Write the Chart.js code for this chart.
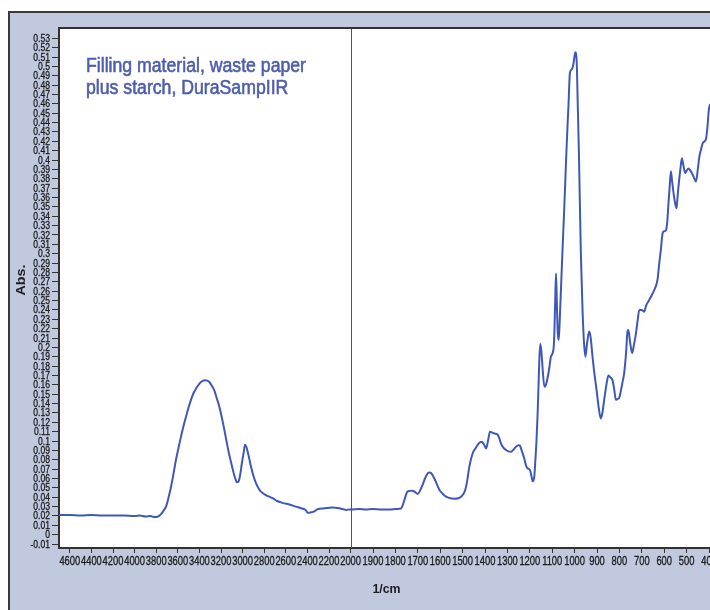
<!DOCTYPE html>
<html>
<head>
<meta charset="utf-8">
<script src="https://cdn.jsdelivr.net/npm/chart.js@4.4.1/dist/chart.umd.min.js"></script>
<style>
  html, body { margin: 0; padding: 0; background: #fff; overflow: hidden; width: 710px; height: 610px; }
  canvas { display: block; }
</style>
</head>
<body>
<canvas id="spectrum" width="740" height="610"></canvas>
<script>
// IR spectrum: wavenumber (1/cm) and absorbance
const wavenumbers = [
  4700, 4600, 4500, 4400, 4300, 4200, 4100, 4000, 3950, 3900, 3850, 3833, 3800, 3780, 3755, 3730,
  3709, 3685, 3663, 3640, 3617, 3593, 3570, 3547, 3524, 3500, 3478, 3455, 3431, 3408, 3385, 3365,
  3348, 3328, 3308, 3285, 3262, 3240, 3216, 3192, 3169, 3146, 3123, 3100, 3083, 3065, 3052, 3040,
  3031, 3018, 3006, 2990, 2978, 2966, 2954, 2938, 2923, 2900, 2876, 2850, 2830, 2780, 2722, 2680,
  2630, 2560, 2506, 2450, 2413, 2398, 2382, 2360, 2336, 2300, 2250, 2200, 2167, 2120, 2074, 2040,
  2012, 2000, 1961, 1930, 1902, 1860, 1827, 1795, 1775, 1768, 1760, 1752, 1746, 1735, 1723, 1712,
  1701, 1690, 1679, 1668, 1656, 1648, 1641, 1626, 1615, 1604, 1590, 1574, 1555, 1537, 1520, 1507,
  1495, 1488, 1480, 1470, 1455, 1443, 1433, 1420, 1413, 1404, 1395, 1386, 1378, 1368, 1358, 1344,
  1336, 1329, 1318, 1306, 1295, 1284, 1272, 1262, 1250, 1244, 1235, 1225, 1217, 1210, 1199, 1193,
  1187, 1180, 1175, 1170, 1165, 1161, 1157, 1153, 1148, 1143, 1135, 1128, 1121, 1113, 1106, 1098,
  1092, 1087, 1083, 1079, 1075, 1071, 1067, 1058, 1046, 1038, 1031, 1027, 1021, 1012, 1005, 997,
  991, 986, 981, 977, 972, 967, 964, 958, 952, 944, 935, 928, 920, 913, 902, 892,
  883, 876, 868, 858, 849, 840, 831, 823, 816, 808, 801, 794, 786, 779, 770, 764,
  760, 752, 743, 735, 726, 718, 711, 700, 690, 680, 667, 655, 645, 630, 622, 615,
  607, 600, 592, 586, 582, 576, 570, 565, 560, 552, 545, 539, 533, 527, 521, 514,
  506, 499, 491, 484, 476, 467, 458, 450, 443, 435, 428, 420, 413, 406, 401, 395
];
const absorbance = [
  0.021, 0.021, 0.0205, 0.021, 0.0205, 0.0205, 0.0205, 0.020, 0.0205, 0.0195, 0.020, 0.0192, 0.019, 0.0195, 0.022, 0.026,
  0.030, 0.040, 0.051, 0.065, 0.080, 0.093, 0.105, 0.116, 0.126, 0.136, 0.144, 0.151, 0.156, 0.160, 0.163, 0.1645,
  0.165, 0.1645, 0.163, 0.159, 0.154, 0.146, 0.137, 0.125, 0.112, 0.098, 0.085, 0.074, 0.066, 0.059, 0.056, 0.0565,
  0.059, 0.067, 0.077, 0.088, 0.096, 0.094, 0.089, 0.081, 0.073, 0.063, 0.055, 0.049, 0.046, 0.042, 0.039, 0.036,
  0.034, 0.032, 0.030, 0.028, 0.026, 0.0235, 0.0235, 0.024, 0.025, 0.0275, 0.028, 0.0288, 0.029, 0.0285, 0.0274, 0.0265,
  0.027, 0.027, 0.0274, 0.027, 0.0275, 0.027, 0.027, 0.0275, 0.028, 0.031, 0.037, 0.043, 0.046, 0.0468, 0.047, 0.0455,
  0.0435, 0.047, 0.053, 0.060, 0.0655, 0.0665, 0.066, 0.060, 0.054, 0.048, 0.044, 0.0406, 0.039, 0.0385, 0.039, 0.0406,
  0.044, 0.048, 0.057, 0.0726, 0.087, 0.092, 0.0958, 0.099, 0.099, 0.096, 0.092, 0.101, 0.110, 0.109, 0.108, 0.107,
  0.103, 0.0976, 0.093, 0.0904, 0.089, 0.0886, 0.091, 0.094, 0.0955, 0.095, 0.089, 0.0816, 0.074, 0.071, 0.069, 0.063,
  0.057, 0.062, 0.080, 0.101, 0.130, 0.160, 0.190, 0.204, 0.195, 0.178, 0.158, 0.160, 0.167, 0.178, 0.190, 0.194,
  0.205, 0.245, 0.279, 0.245, 0.215, 0.208, 0.225, 0.28, 0.35, 0.40, 0.44, 0.46, 0.493, 0.497, 0.503, 0.515,
  0.507, 0.46, 0.41, 0.36, 0.30, 0.26, 0.236, 0.205, 0.19, 0.205, 0.217, 0.21, 0.19, 0.175, 0.1545, 0.135,
  0.124, 0.13, 0.144, 0.16, 0.17, 0.168, 0.165, 0.155, 0.144, 0.145, 0.146, 0.153, 0.163, 0.172, 0.195, 0.217,
  0.2185, 0.205, 0.194, 0.203, 0.215, 0.23, 0.24, 0.24, 0.238, 0.245, 0.2506, 0.256, 0.261, 0.272, 0.29, 0.304,
  0.322, 0.324, 0.325, 0.335, 0.35, 0.37, 0.388, 0.378, 0.368, 0.355, 0.3485, 0.365, 0.379, 0.392, 0.402, 0.394,
  0.386, 0.389, 0.391, 0.389, 0.386, 0.381, 0.377, 0.39, 0.4036, 0.412, 0.418, 0.42, 0.423, 0.438, 0.453, 0.46
];

const xTickLabels = [
  4600, 4400, 4200, 4000, 3800, 3600, 3400, 3200, 3000, 2800, 2600, 2400, 2200, 2000,
  1900, 1800, 1700, 1600, 1500, 1400, 1300, 1200, 1100, 1000, 900, 800, 700, 600, 500, 400
];
const yTickValues = [
  -0.01, 0, 0.01, 0.02, 0.03, 0.04, 0.05, 0.06, 0.07, 0.08, 0.09, 0.1, 0.11, 0.12, 0.13, 0.14,
  0.15, 0.16, 0.17, 0.18, 0.19, 0.2, 0.21, 0.22, 0.23, 0.24, 0.25, 0.26, 0.27, 0.28, 0.29, 0.3,
  0.31, 0.32, 0.33, 0.34, 0.35, 0.36, 0.37, 0.38, 0.39, 0.4, 0.41, 0.42, 0.43, 0.44, 0.45, 0.46,
  0.47, 0.48, 0.49, 0.5, 0.51, 0.52, 0.53
];
const titleLines = ['Filling material, waste paper', 'plus starch, DuraSampIIR'];
const xAxisTitle = '1/cm';
const yAxisTitle = 'Abs.';

// The wavenumber axis is split at 2000: 200 1/cm per division above, 100 1/cm per division below
const AXIS_START = 4700;
const AXIS_BREAK = 2000;
const LOW_STRETCH = 22.4 / 21.6;
const PX_PER_DIV = 21.6;
function axisPos(w) {
  return w >= AXIS_BREAK
    ? (AXIS_START - w) / 200
    : (AXIS_START - AXIS_BREAK) / 200 + (AXIS_BREAK - w) / 100 * LOW_STRETCH;
}

const PLOT_LEFT = 59;
const canvas = document.getElementById('spectrum');
const xMax = (canvas.width - PLOT_LEFT) / PX_PER_DIV;

const sans = "'Liberation Sans', Arial, sans-serif";
const axisInk = '#333333';
const labelInk = '#1a1a1a';
const CONDENSE = 0.78;    // condensed look for the axis lettering
const X_TICK_LEN = 5, Y_TICK_LEN = 7;

// draw text squeezed horizontally around its anchor point
function condensedText(ctx, text, x, y, sx, stroke) {
  ctx.save();
  ctx.translate(x, y);
  ctx.scale(sx, 1);
  ctx.fillText(text, 0, 0);
  if (stroke) ctx.strokeText(text, 0, 0);
  ctx.restore();
}

const framePlugin = {
  id: 'frame',
  beforeDraw(chart) {
    const { ctx, chartArea: a, width, height } = chart;
    ctx.save();
    ctx.fillStyle = '#ffffff';
    ctx.fillRect(0, 0, width, height);
    ctx.fillStyle = '#c0c9de';
    ctx.fillRect(9, 12, width, height);
    ctx.fillStyle = '#3a3a3a';
    ctx.fillRect(8, 11, width, 2);
    ctx.fillRect(8, 11, 2, height);
    ctx.fillStyle = '#ffffff';
    ctx.fillRect(a.left, a.top, a.right - a.left, a.bottom - a.top);
    ctx.restore();
  },
  beforeDatasetsDraw(chart) {
    const { ctx, chartArea: a, scales } = chart;
    const x = Math.round(scales.x.getPixelForValue(axisPos(AXIS_BREAK))) + 0.5;
    ctx.save();
    ctx.strokeStyle = '#555555';
    ctx.lineWidth = 1;
    ctx.beginPath();
    ctx.moveTo(x, a.top);
    ctx.lineTo(x, a.bottom);
    ctx.stroke();
    ctx.restore();
  },
  afterDraw(chart) {
    const { ctx, chartArea: a, width, scales } = chart;
    ctx.save();
    ctx.fillStyle = axisInk;
    ctx.fillRect(a.left - 1, a.top - 1, width, 2);

    // tick labels, placed by the scales
    ctx.fillStyle = labelInk;
    ctx.strokeStyle = labelInk;
    ctx.lineWidth = 0.3;
    ctx.textBaseline = 'middle';
    ctx.textAlign = 'center';
    ctx.font = '12px ' + sans;
    scales.x.ticks.forEach((t, i) => {
      condensedText(ctx, String(xTickLabels[i]), scales.x.getPixelForValue(t.value),
        a.bottom + X_TICK_LEN + 9, CONDENSE, true);
    });
    ctx.textAlign = 'right';
    ctx.font = '11px ' + sans;
    scales.y.ticks.forEach((t, i) => {
      condensedText(ctx, String(parseFloat(yTickValues[i].toFixed(2))),
        a.left - Y_TICK_LEN - 2, scales.y.getPixelForValue(t.value) + 0.5, CONDENSE, true);
    });

    // caption inside the plot
    ctx.fillStyle = '#4e5dae';
    ctx.strokeStyle = '#4e5dae';
    ctx.lineWidth = 0.6;
    ctx.textAlign = 'left';
    ctx.textBaseline = 'alphabetic';
    ctx.font = '20px ' + sans;
    const sx = 220 / ctx.measureText(titleLines[0]).width;
    condensedText(ctx, titleLines[0], 86, 72, sx, true);
    condensedText(ctx, titleLines[1], 86, 94, sx, true);

    // axis titles
    ctx.fillStyle = '#1e1e1e';
    ctx.font = 'bold 13px ' + sans;
    ctx.textAlign = 'center';
    ctx.textBaseline = 'middle';
    condensedText(ctx, xAxisTitle, 386.5, 589, 0.95);
    ctx.translate(21, 280);
    ctx.rotate(-Math.PI / 2);
    condensedText(ctx, yAxisTitle, 0, 0, 1.1);
    ctx.restore();
  }
};

const points = wavenumbers.map((w, i) => ({ x: axisPos(w), y: absorbance[i] }));

new Chart(canvas, {
  type: 'line',
  data: {
    datasets: [{
      data: points,
      borderColor: '#3f58b8',
      borderWidth: 2,
      pointRadius: 0,
      cubicInterpolationMode: 'monotone',
      fill: false
    }]
  },
  options: {
    responsive: false,
    animation: false,
    devicePixelRatio: 1,
    layout: { padding: { left: 9, top: 28, right: 0, bottom: 0 } },
    plugins: { legend: { display: false }, tooltip: { enabled: false } },
    scales: {
      x: {
        type: 'linear',
        min: 0,
        max: xMax,
        afterFit(s) { s.height = 62; },
        afterBuildTicks(s) { s.ticks = xTickLabels.map(w => ({ value: axisPos(w) })); },
        grid: { display: true, drawOnChartArea: false, drawTicks: true, tickLength: X_TICK_LEN, color: axisInk, lineWidth: 1 },
        border: { display: true, color: axisInk, width: 2 },
        ticks: { display: false, autoSkip: false }
      },
      y: {
        type: 'linear',
        min: -0.0142,
        max: 0.541,
        afterFit(s) { s.width = 50; },
        afterBuildTicks(s) { s.ticks = yTickValues.map(v => ({ value: v })); },
        grid: { display: true, drawOnChartArea: false, drawTicks: true, tickLength: Y_TICK_LEN, color: axisInk, lineWidth: 1 },
        border: { display: true, color: axisInk, width: 2 },
        ticks: { display: false, autoSkip: false }
      }
    }
  },
  plugins: [framePlugin]
});
</script>
</body>
</html>
